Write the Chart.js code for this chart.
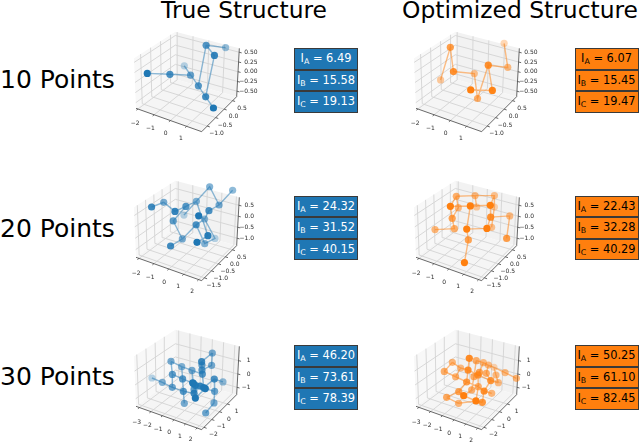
<!DOCTYPE html>
<html>
<head>
<meta charset="utf-8">
<style>
body { margin: 0; background: #fff; font-family: 'DejaVu Sans', sans-serif; }
#page { position: relative; width: 640px; height: 445px; overflow: hidden; }
canvas { position: absolute; filter: blur(0.35px); }
.title { position: absolute; top: -5px; font-size: 23.4px; line-height: 30px; white-space: nowrap; transform: translateX(-50%); }
.rowname { position: absolute; left: 0; font-size: 25px; line-height: 30px; white-space: nowrap; }
.box { position: absolute; width: 64px; }
.cell { box-sizing: border-box; height: 21.8px; line-height: 19.5px; border: 1px solid #3a3a3a; margin-bottom: -0.3px; text-align: center; font-size: 11.4px; white-space: nowrap; }
.cell sub { font-size: 7.8px; line-height: 0; vertical-align: -2px; }
</style>
</head>
<body>
<div id="page"></div>
<script src="https://cdn.jsdelivr.net/npm/chart.js@4"></script>
<script>
const rowNames = ['10 Points', '20 Points', '30 Points']
const columnNames = ['True Structure', 'Optimized Structure']

// values, panel order: true/optimized per row
const x1 = [-1.13, -0.61, -0.01, -1.33, 0.76, 0.41, 0.67, 1.32, 1.50, 2.36]
const y1 = [-1.52, -0.80, -0.21, 0.57, -0.46, 0.24, 1.10, -0.11, -0.72, -1.08]
const z1 = [0.42, 0.22, 0.06, -0.14, -0.02, 0.70, 0.35, 0.67, -0.10, -0.12]
const chain1 = [0, 1, 2, 3, 4, 5, 6, null, 5, 7, 8, 9, null, 4, 8]

const x2 = [-1.92, -1.17, -0.38, -0.34, 0.59, 1.10, 1.26, 0.15, 1.93, 1.04]
const y2 = [-0.19, -0.29, -0.81, 0.28, -0.34, -0.24, 0.74, 1.46, -0.75, -1.15]
const z2 = [-0.30, 0.65, 0.32, -0.12, -0.40, 0.45, 0.04, 0.27, 0.12, 0.17]
const chain2 = [0, 1, 2, 3, 4, 5, 6, 7, null, 5, 8, 9]

const x3 = [-1.60, -1.79, -0.27, -0.22, -0.32, 0.05, 1.19, 1.04, 1.14, 1.22, -1.35, -0.70, 0.32, 0.76, -0.18, 0.00, 1.91, 0.74, 0.92, 1.60]
const y3 = [-1.20, -0.28, -1.01, -0.36, 0.41, 0.90, 1.34, 0.60, -0.18, -0.95, 0.58, -0.71, 0.36, -0.64, -0.62, -1.57, -1.01, 0.70, -0.19, -1.43]
const z3 = [0.76, 0.48, 0.74, 0.64, 0.45, 0.92, 0.71, 0.42, 0.61, 0.81, -0.46, 0.08, -0.21, 0.16, -0.66, -0.42, 0.12, -1.21, -0.89, 0.00]
const chain3 = [6, 7, 8, 12, 13, 14, 15, null, 0, 1, 2, 3, 4, 5, 7, null, 3, 11, 14, null, 4, 16, 19, null, 12, 17, 18, 13, null, 10, 4, null, 9, 12]

const x4 = [-1.29, -0.64, 0.22, -0.32, -1.24, 0.64, -0.59, 1.60, 0.07, -0.80, 1.47, 1.57, -1.84, -0.77, 0.87, 1.85, 0.72, 2.44, 0.39, 1.32]
const y4 = [0.04, 0.62, 1.07, -1.25, 0.12, -0.92, 0.69, -0.57, 1.24, -0.68, -0.39, 0.84, -0.80, -0.57, -1.38, -1.03, 0.46, -0.23, -0.78, -1.99]
const z4 = [0.69, 0.54, 0.45, 1.07, 0.14, 1.11, -0.01, 1.14, -0.20, 0.16, 0.50, -0.12, -0.49, -0.35, 0.39, 0.43, -0.57, -0.34, -0.50, -0.61]
const chain4 = [0, 1, 2, 8, 16, null, 0, 3, 5, 7, 10, 15, 14, 5, null, 0, 4, 9, 13, 12, null, 3, 9, null, 10, 11, 17, null, 14, 18, 19, null, 6, 1, null, 7, 2]

const x5 = [0.42, 0.76, 0.69, -2.06, -1.41, -0.48, 0.78, -3.94, -2.28, -1.18, -1.31, -0.38, 0.90, 1.82, 1.84, 1.56, 1.69, -0.05, 1.01, 2.10, 1.67, -0.20, 1.77, 1.60, 1.16, 1.07, 1.39, 0.37, 0.66, 0.44]
const y5 = [1.67, -0.07, 1.26, 0.15, 0.53, 0.50, 0.02, 0.36, -0.57, -0.87, -0.68, -0.74, -1.23, -1.28, 0.00, 1.53, 0.31, -1.10, -1.29, -1.49, -2.08, -0.77, 0.16, -0.63, -1.69, -1.23, -1.11, 0.52, 0.13, -0.49]
const z5 = [1.40, 1.70, 0.75, 0.93, 0.51, 0.48, 0.76, -0.88, -0.33, -0.26, 0.55, 0.49, 0.74, 0.70, 0.67, -0.42, -0.42, -0.14, 0.09, 0.81, 0.33, -1.21, -1.16, -1.50, 1.08, 0.65, 0.62, 1.07, 0.97, -0.18]
const chain5 = [3, 4, 5, 6, null, 7, 8, 9, 17, 18, 20, null, 10, 11, 12, 13, null, 3, 10, 9, null, 4, 11, 17, 21, null, 0, 1, 27, 28, 6, null, 0, 2, 28, null, 15, 14, 13, null, 14, 16, 22, 23, null, 16, 19, 26, 25, 24, 5, null, 5, 12, 25, 20, null, 6, 13, 19, 20]

const x6 = [0.05, -2.09, -0.44, -0.26, 0.13, -0.09, -2.21, 0.08, -1.60, 0.50, 0.52, 1.43, 2.49, -1.54, -0.06, 0.37, 1.61, 1.23, 0.32, 1.57, 1.20, -0.50, 0.85, -1.30, -0.73, 1.73, 1.56, -0.03, -0.20, 0.88]
const y6 = [-0.57, 0.38, 0.94, 1.54, 1.62, 2.62, -0.38, -0.75, 0.68, -0.14, 0.84, 1.89, 1.83, 0.02, -0.71, 0.21, -0.16, 1.37, 0.18, -0.91, 0.61, -1.03, -2.36, -1.36, -0.73, -2.15, -1.08, -0.13, 0.36, 1.54]
const z6 = [2.01, 0.73, 0.99, 0.59, 0.46, -0.28, 0.39, 1.26, 0.29, 0.71, 0.34, 0.06, -0.09, -0.02, 0.34, 0.69, 0.59, -0.46, -0.35, 0.22, -0.84, -0.32, 0.42, -0.78, -1.37, 0.19, -0.50, -0.52, 0.16, -0.06]
const chain6 = [1, 8, 7, 9, 16, 17, null, 2, 3, 4, 5, 11, 12, null, 6, 13, 14, 18, 19, 20, null, 6, 1, null, 0, 7, 14, 21, 22, 25, 26, null, 23, 24, 25, null, 21, 23, null, 2, 28, 27, 22, null, 16, 19, 26, null, 9, 18, 25, null, 3, 15, null, 4, 10, 16, null, 5, 29, 17, null, 13, 8]

const moments1 = ['6.49', '15.58', '19.13']
const moments2 = ['6.07', '15.45', '19.47']
const moments3 = ['24.32', '31.52', '40.15']
const moments4 = ['22.43', '32.28', '40.29']
const moments5 = ['46.20', '73.61', '78.39']
const moments6 = ['50.25', '61.10', '82.45']

const xTicks1 = [-2, -1, 0, 1]
const yTicks1 = [-1, -0.5, 0, 0.5]
const zTicks1 = [-0.5, -0.25, 0, 0.25, 0.5]
const xTicks2 = [-2, -1, 0, 1, 2]
const yTicks2 = [-1.5, -1, -0.5, 0, 0.5]
const zTicks2 = [-1, -0.5, 0, 0.5]
const xTicks3 = [-3, -2, -1, 0, 1, 2]
const yTicks3 = [-2, -1, 0, 1]
const zTicks3 = [-1, 0, 1]

// corners of the 3D box on the panel plane, order u,v,w = 000 100 110 010 001 101 111 011
const boxCorners = [[48, 265], [245, 335], [350, 230], [166, 178], [42, 115], [248, 178], [358, 85], [166, 35]]
const planeWidth = 480
const planeHeight = 405

const panels = [
    { x: x1, y: y1, z: z1, chain: chain1, moments: moments1, rgb: '31,119,180', text: '#fff', xT: xTicks1, yT: yTicks1, zT: zTicks1, dy: 1, dz: 2, lim: [[-2.12, 1.93], [-1.33, 0.74], [-0.64, 0.6]], zRight: 413 },
    { x: x2, y: y2, z: z2, chain: chain2, moments: moments2, rgb: '255,127,14', text: '#000', xT: xTicks1, yT: yTicks1, zT: zTicks1, dy: 1, dz: 2, lim: [[-2.12, 1.93], [-1.33, 0.74], [-0.64, 0.6]], zRight: 413 },
    { x: x3, y: y3, z: z3, chain: chain3, moments: moments3, rgb: '31,119,180', text: '#fff', xT: xTicks2, yT: yTicks2, zT: zTicks2, dy: 1, dz: 1, lim: [[-2.2, 2.2], [-1.7, 0.8], [-1.34, 0.86]], zRight: 402 },
    { x: x4, y: y4, z: z4, chain: chain4, moments: moments4, rgb: '255,127,14', text: '#000', xT: xTicks2, yT: yTicks2, zT: zTicks2, dy: 1, dz: 1, lim: [[-2.2, 2.2], [-1.7, 0.8], [-1.34, 0.86]], zRight: 402 },
    { x: x5, y: y5, z: z5, chain: chain5, moments: moments5, rgb: '31,119,180', text: '#fff', xT: xTicks3, yT: yTicks3, zT: zTicks3, dy: 0, dz: 0, lim: [[-3.3, 2.4], [-2.3, 2.2], [-1.55, 2.07]], zRight: 392 },
    { x: x6, y: y6, z: z6, chain: chain6, moments: moments6, rgb: '255,127,14', text: '#000', xT: xTicks3, yT: yTicks3, zT: zTicks3, dy: 0, dz: 0, lim: [[-3.25, 2.35], [-2.3, 2.2], [-1.55, 2.07]], zRight: 392 },
]

const columnLeft = [120, 400]
const rowTop = [20, 169, 318]
const boxLeft = [294, 574.5]
const boxTop = [48, 195.5, 345]
const rowNameTop = [65, 214, 362]
const titleCenter = [244, 520]

// box fractions to the panel plane (trilinear between the eight corners)
const corner = (u, v, w) => {
    const mix = (a, b, t) => a * (1 - t) + b * t
    return [0, 1].map(n => {
        const low = mix(mix(boxCorners[0][n], boxCorners[1][n], u), mix(boxCorners[3][n], boxCorners[2][n], u), v)
        const high = mix(mix(boxCorners[4][n], boxCorners[5][n], u), mix(boxCorners[7][n], boxCorners[6][n], u), v)
        return mix(low, high, w)
    })
}
const fractions = (lim, x, y, z) => [
    (x - lim[0][0]) / (lim[0][1] - lim[0][0]),
    (y - lim[1][0]) / (lim[1][1] - lim[1][0]),
    (z - lim[2][0]) / (lim[2][1] - lim[2][0]),
]
const project = (lim, x, y, z) => {
    const p = corner(...fractions(lim, x, y, z))
    return { x: p[0], y: p[1] }
}
const GAP = { x: NaN, y: NaN }
const minus = s => s.replace('-', '\u2212')

const tickLabels = {
    id: 'tickLabels',
    afterDraw(chart, args, opts) {
        const { ctx, scales } = chart
        const p = opts.panel
        const [xl, yl, zl] = p.lim
        const put = (pos, text, align) => {
            ctx.textAlign = align
            ctx.fillText(text, scales.x.getPixelForValue(pos.x), scales.y.getPixelForValue(pos.y))
        }
        ctx.save()
        ctx.font = "6px 'DejaVu Sans'"
        ctx.fillStyle = '#2a2a2a'
        ctx.textBaseline = 'middle'
        p.xT.forEach(v => {
            const e = project(p.lim, v, yl[0], zl[0])
            const u = (v - xl[0]) / (xl[1] - xl[0])
            put({ x: e.x - 8 - 12 * u, y: e.y + 45 - 10 * u }, minus(v.toFixed(0)), 'center')
        })
        p.yT.forEach(v => {
            const e = project(p.lim, xl[1], v, zl[0])
            put({ x: e.x + 28, y: e.y + 22 }, minus(v.toFixed(p.dy)), 'center')
        })
        p.zT.forEach(v => {
            const e = project(p.lim, xl[1], yl[1], v)
            put({ x: p.zRight, y: e.y }, minus(v.toFixed(p.dz)), 'right')
        })
        ctx.restore()
    }
}

function showPanel(p, index) {
    const col = index % 2
    const row = Math.floor(index / 2)
    const page = document.getElementById('page')

    const canvas = document.createElement('canvas')
    canvas.width = planeWidth / 3
    canvas.height = planeHeight / 3
    canvas.style.left = columnLeft[col] + 'px'
    canvas.style.top = rowTop[row] + 'px'
    page.appendChild(canvas)

    const [xl, yl, zl] = p.lim
    const pts = p.x.map((v, i) => project(p.lim, v, p.y[i], p.z[i]))

    // nearer points are more opaque, like a depth shaded scatter
    const depth = p.x.map((v, i) => {
        const f = fractions(p.lim, v, p.y[i], p.z[i])
        return 0.433 * f[0] - 0.75 * f[1] + 0.5 * f[2]
    })
    const dMin = Math.min(...depth)
    const dMax = Math.max(...depth)
    const sorted = pts.map((pt, i) => i).sort((a, b) => depth[a] - depth[b])
    const alpha = i => 0.3 + 0.7 * (depth[i] - dMin) / (dMax - dMin)

    const grid = []
    p.xT.forEach(v => grid.push(project(p.lim, v, yl[0], zl[0]), project(p.lim, v, yl[1], zl[0]), project(p.lim, v, yl[1], zl[1]), GAP))
    p.yT.forEach(v => grid.push(project(p.lim, xl[1], v, zl[0]), project(p.lim, xl[0], v, zl[0]), project(p.lim, xl[0], v, zl[1]), GAP))
    p.zT.forEach(v => grid.push(project(p.lim, xl[0], yl[0], v), project(p.lim, xl[0], yl[1], v), project(p.lim, xl[1], yl[1], v), GAP))

    const axes = [
        project(p.lim, xl[0], yl[0], zl[0]), project(p.lim, xl[1], yl[0], zl[0]),
        project(p.lim, xl[1], yl[1], zl[0]), project(p.lim, xl[1], yl[1], zl[1]), GAP,
    ]
    const yOut = yl[0] - 0.04 * (yl[1] - yl[0])
    const xOut = xl[1] + 0.04 * (xl[1] - xl[0])
    p.xT.forEach(v => axes.push(project(p.lim, v, yl[0], zl[0]), project(p.lim, v, yOut, zl[0]), GAP))
    p.yT.forEach(v => axes.push(project(p.lim, xl[1], v, zl[0]), project(p.lim, xOut, v, zl[0]), GAP))
    p.zT.forEach(v => axes.push(project(p.lim, xl[1], yl[1], v), project(p.lim, xOut, yl[1], v), GAP))

    const pane = (a, b, c, d) => [a, b, c, d, a].map(q => project(p.lim, xl[q[0]], yl[q[1]], zl[q[2]]))
    const paneStyle = color => ({ showLine: true, fill: 'shape', backgroundColor: color, borderWidth: 0, pointRadius: 0 })

    new Chart(canvas, {
        type: 'scatter',
        data: {
            datasets: [
                {
                    data: sorted.map(i => pts[i]),
                    pointRadius: 3.6,
                    pointBorderWidth: 0,
                    pointBackgroundColor: sorted.map(i => `rgba(${p.rgb},${alpha(i)})`),
                },
                {
                    data: p.chain.map(i => i === null ? GAP : pts[i]),
                    showLine: true,
                    borderColor: `rgba(${p.rgb},0.5)`,
                    borderWidth: 1.4,
                    pointRadius: 0,
                },
                { data: axes, showLine: true, borderColor: '#444', borderWidth: 0.8, pointRadius: 0 },
                { data: grid, showLine: true, borderColor: '#d4d4d4', borderWidth: 0.9, pointRadius: 0 },
                { data: pane([0, 0, 0], [1, 0, 0], [1, 1, 0], [0, 1, 0]), ...paneStyle('#f5f5f5') },
                { data: pane([0, 0, 0], [0, 1, 0], [0, 1, 1], [0, 0, 1]), ...paneStyle('#f8f8f8') },
                { data: pane([0, 1, 0], [1, 1, 0], [1, 1, 1], [0, 1, 1]), ...paneStyle('#f2f2f2') },
            ]
        },
        options: {
            responsive: false,
            animation: false,
            layout: { autoPadding: false, padding: 0 },
            scales: {
                x: { type: 'linear', display: false, min: 0, max: planeWidth },
                y: { type: 'linear', display: false, min: 0, max: planeHeight, reverse: true },
            },
            plugins: {
                legend: { display: false },
                tooltip: { enabled: false },
                tickLabels: { panel: p },
            }
        },
        plugins: [tickLabels]
    })

    const box = document.createElement('div')
    box.className = 'box'
    box.style.left = boxLeft[col] + 'px'
    box.style.top = boxTop[row] + 'px'
    ;['A', 'B', 'C'].forEach((name, i) => {
        const cell = document.createElement('div')
        cell.className = 'cell'
        cell.style.background = `rgb(${p.rgb})`
        cell.style.color = p.text
        cell.innerHTML = `I<sub>${name}</sub> = ${p.moments[i]}`
        box.appendChild(cell)
    })
    page.appendChild(box)
}

function addText(className, text, left, top) {
    const el = document.createElement('div')
    el.className = className
    el.textContent = text
    if (left !== null) el.style.left = left + 'px'
    if (top !== null) el.style.top = top + 'px'
    document.getElementById('page').appendChild(el)
}

columnNames.forEach((name, i) => addText('title', name, titleCenter[i], null))
rowNames.forEach((name, i) => addText('rowname', name, null, rowNameTop[i]))
panels.forEach(showPanel)
</script>
</body>
</html>
